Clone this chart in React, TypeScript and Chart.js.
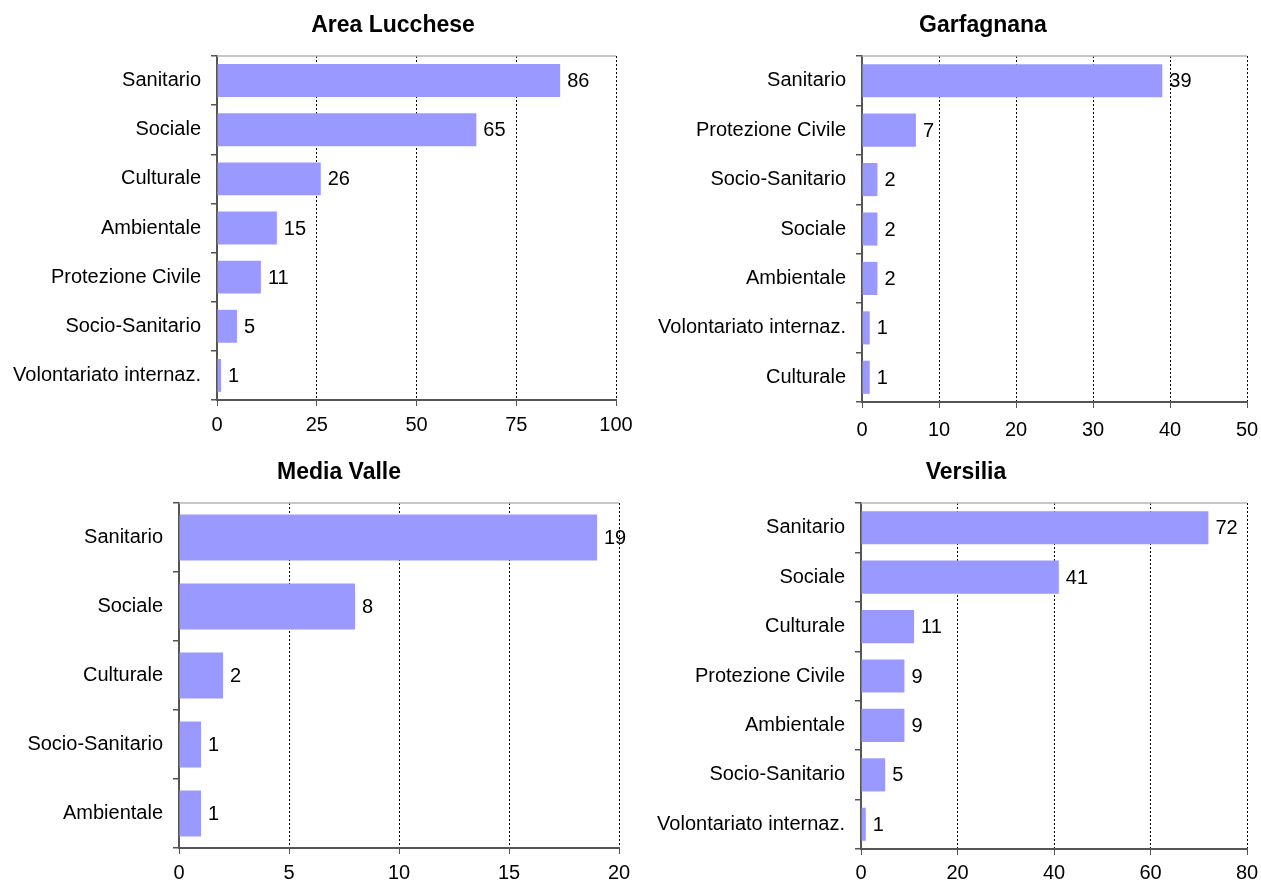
import React, { useEffect, useRef } from "react";
import { Chart, registerables } from "chart.js";

Chart.register(...registerables);

// ---- data ----
const luccheseCategories = ["Sanitario", "Sociale", "Culturale", "Ambientale", "Protezione Civile", "Socio-Sanitario", "Volontariato internaz."];
const luccheseValues = [86, 65, 26, 15, 11, 5, 1];
const luccheseTicks = [0, 25, 50, 75, 100];

const garfagnanaCategories = ["Sanitario", "Protezione Civile", "Socio-Sanitario", "Sociale", "Ambientale", "Volontariato internaz.", "Culturale"];
const garfagnanaValues = [39, 7, 2, 2, 2, 1, 1];
const garfagnanaTicks = [0, 10, 20, 30, 40, 50];

const mediaValleCategories = ["Sanitario", "Sociale", "Culturale", "Socio-Sanitario", "Ambientale"];
const mediaValleValues = [19, 8, 2, 1, 1];
const mediaValleTicks = [0, 5, 10, 15, 20];

const versiliaCategories = ["Sanitario", "Sociale", "Culturale", "Protezione Civile", "Ambientale", "Socio-Sanitario", "Volontariato internaz."];
const versiliaValues = [72, 41, 11, 9, 9, 5, 1];
const versiliaTicks = [0, 20, 40, 60, 80];

const FONT = "'Liberation Sans', Arial, sans-serif";
const BAR_COLOR = "#9999FF";

type Box = { left: number; top: number; width: number; height: number };
type Plot = { left: number; right: number; top: number; bottom: number };

type PanelDef = {
  title: string;
  categories: string[];
  values: number[];
  ticks: number[];
  box: Box;
  plot: Plot;
  titleX: number;
  titleY: number;
  tickPad: number;
};

const panels: PanelDef[] = [
  {
    title: "Area Lucchese",
    categories: luccheseCategories,
    values: luccheseValues,
    ticks: luccheseTicks,
    box: { left: 0, top: 0, width: 650, height: 440 },
    plot: { left: 217, right: 616, top: 56, bottom: 400 },
    titleX: 393,
    titleY: 32,
    tickPad: 7,
  },
  {
    title: "Garfagnana",
    categories: garfagnanaCategories,
    values: garfagnanaValues,
    ticks: garfagnanaTicks,
    box: { left: 640, top: 0, width: 660, height: 440 },
    plot: { left: 862, right: 1247, top: 56, bottom: 402 },
    titleX: 983,
    titleY: 32,
    tickPad: 10,
  },
  {
    title: "Media Valle",
    categories: mediaValleCategories,
    values: mediaValleValues,
    ticks: mediaValleTicks,
    box: { left: 0, top: 447, width: 650, height: 434 },
    plot: { left: 179, right: 619, top: 503, bottom: 848 },
    titleX: 339,
    titleY: 479,
    tickPad: 7,
  },
  {
    title: "Versilia",
    categories: versiliaCategories,
    values: versiliaValues,
    ticks: versiliaTicks,
    box: { left: 640, top: 447, width: 660, height: 434 },
    plot: { left: 861, right: 1247, top: 503, bottom: 849 },
    titleX: 966,
    titleY: 479,
    tickPad: 6,
  },
];

function Panel({ def }: { def: PanelDef }) {
  const ref = useRef<HTMLCanvasElement | null>(null);

  useEffect(() => {
    const canvas = ref.current;
    if (!canvas) return;
    const { box, plot } = def;

    const framePlugin = {
      id: "frameTop",
      beforeDatasetsDraw(chart: any) {
        const { ctx, chartArea } = chart;
        ctx.save();
        ctx.strokeStyle = "#b4b4b4";
        ctx.lineWidth = 1.5;
        ctx.beginPath();
        ctx.moveTo(chartArea.left, chartArea.top);
        ctx.lineTo(chartArea.right, chartArea.top);
        ctx.stroke();
        ctx.restore();
      },
    };

    const labelPlugin = {
      id: "valueLabels",
      afterDatasetsDraw(chart: any) {
        const { ctx } = chart;
        const meta = chart.getDatasetMeta(0);
        const data = chart.data.datasets[0].data as number[];
        ctx.save();
        ctx.fillStyle = "#000";
        ctx.font = `20px ${FONT}`;
        ctx.textAlign = "left";
        ctx.textBaseline = "middle";
        meta.data.forEach((el: any, i: number) => {
          ctx.fillText(String(data[i]), el.x + 7, el.y + 1);
        });
        ctx.restore();
      },
    };

    const titlePlugin = {
      id: "panelTitle",
      afterDraw(chart: any) {
        const { ctx } = chart;
        ctx.save();
        ctx.fillStyle = "#000";
        ctx.font = `bold 23px ${FONT}`;
        ctx.textAlign = "center";
        ctx.textBaseline = "alphabetic";
        ctx.fillText(def.title, def.titleX - box.left, def.titleY - box.top);
        ctx.restore();
      },
    };

    const ticks = def.ticks;
    const chart = new Chart(canvas, {
      type: "bar",
      data: {
        labels: def.categories,
        datasets: [
          {
            data: def.values,
            backgroundColor: BAR_COLOR,
            borderWidth: 0,
            barPercentage: 0.67,
            categoryPercentage: 1,
          },
        ],
      },
      options: {
        indexAxis: "y",
        responsive: false,
        maintainAspectRatio: false,
        animation: false,
        events: [],
        layout: {
          padding: {
            left: 0,
            top: plot.top - box.top,
            right: box.left + box.width - plot.right,
            bottom: 0,
          },
        },
        plugins: {
          legend: { display: false },
          title: { display: false },
          tooltip: { enabled: false },
        },
        scales: {
          x: {
            type: "linear",
            min: ticks[0],
            max: ticks[ticks.length - 1],
            ticks: {
              stepSize: ticks[1] - ticks[0],
              color: "#000",
              font: { family: FONT, size: 20 },
              padding: def.tickPad,
              maxRotation: 0,
            },
            grid: {
              color: (c: any) => (c.tick && c.tick.value === 0 ? "rgba(0,0,0,0)" : "#000"),
              lineWidth: 1,
              tickColor: "#555",
              tickLength: 6,
              drawTicks: true,
            },
            border: { display: true, color: "#555", width: 2, dash: [2, 2] },
            afterFit: (s: any) => {
              s.height = box.top + box.height - plot.bottom;
            },
          },
          y: {
            type: "category",
            ticks: {
              color: "#000",
              font: { family: FONT, size: 20 },
              padding: 10,
              autoSkip: false,
            },
            grid: {
              offset: true,
              drawOnChartArea: false,
              drawTicks: true,
              tickLength: 6,
              color: "#555",
              tickColor: "#555",
              lineWidth: 1.5,
            },
            border: { display: true, color: "#555", width: 2 },
            afterFit: (s: any) => {
              s.width = plot.left - box.left;
            },
          },
        },
      } as any,
      plugins: [framePlugin, labelPlugin, titlePlugin],
    });

    return () => chart.destroy();
  }, [def]);

  return (
    <canvas
      ref={ref}
      width={def.box.width}
      height={def.box.height}
      style={{
        position: "absolute",
        left: def.box.left,
        top: def.box.top,
        width: def.box.width,
        height: def.box.height,
        display: "block",
      }}
    />
  );
}

export default function App() {
  return (
    <div
      style={{
        position: "absolute",
        left: 0,
        top: 0,
        width: 1261,
        height: 881,
        background: "#fff",
        overflow: "hidden",
      }}
    >
      {panels.map((p) => (
        <Panel key={p.title} def={p} />
      ))}
    </div>
  );
}
